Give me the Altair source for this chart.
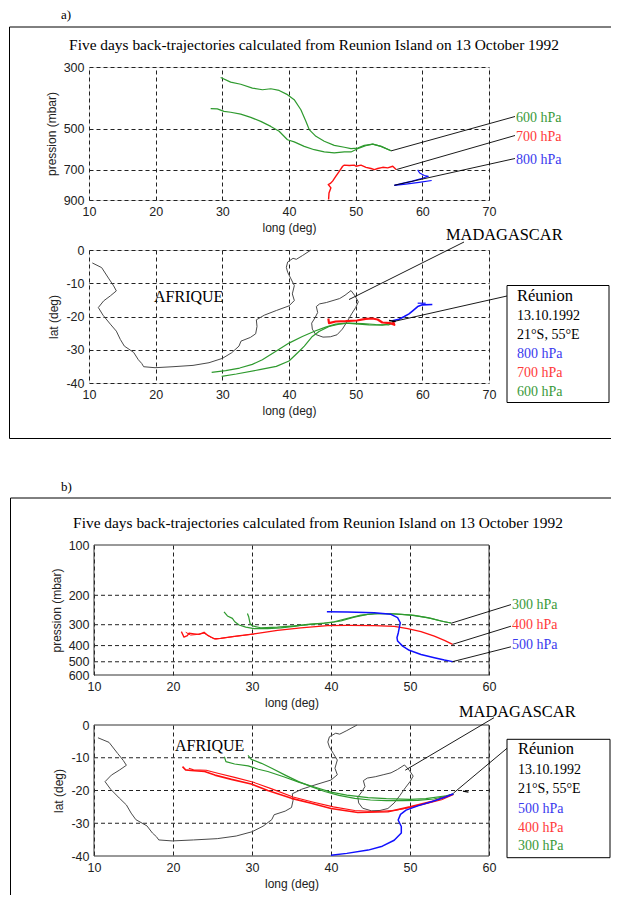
import altair as alt
import pandas as pd

# ---------------------------------------------------------------- data
# coastlines (lon, lat)
africa = [(10.5, -3.9), (11.9, -5.3), (13.0, -8.7), (13.7, -10.8), (14.1, -12.3),
          (13.2, -13.8), (12.2, -15.3), (11.4, -17.3), (12.1, -19.6), (13.2, -22.3),
          (14.1, -24.4), (14.7, -26.9), (15.3, -28.9), (16.7, -30.8), (17.4, -33.0),
          (17.9, -34.1), (18.2, -35.1), (19.9, -35.4), (22.6, -35.1), (25.6, -34.7),
          (28.0, -33.9), (30.0, -32.6), (31.4, -30.9), (32.5, -28.9), (32.8, -27.4),
          (34.2, -26.3), (35.0, -25.2), (35.2, -23.0), (35.1, -21.0), (36.3, -19.6),
          (38.1, -18.2), (40.0, -16.8), (40.8, -15.2), (40.5, -13.2), (40.8, -10.7),
          (40.3, -8.7), (39.8, -6.7), (39.6, -5.2), (39.8, -3.6), (40.6, -2.5),
          (41.1, -2.8), (42.0, -1.7), (43.3, 0.0)]
madagascar = [(49.3, -12.2), (49.9, -13.8), (50.4, -15.6), (50.0, -17.3), (49.4, -19.2),
              (48.7, -21.6), (48.0, -23.8), (47.2, -25.5), (46.2, -26.1), (45.1, -26.2),
              (44.0, -25.4), (43.5, -23.8), (43.4, -22.0), (43.9, -20.4), (44.3, -18.8),
              (44.1, -17.0), (44.6, -16.2), (45.6, -15.8), (46.6, -15.2), (47.6, -14.6),
              (48.4, -13.6), (49.3, -12.2)]

# panel a : pressure (lon, hPa)
a_p600_1 = [(29.75, 327), (31.25, 340), (32.76, 346), (34.51, 357), (36.02, 362), (37.27, 359),
            (38.52, 364), (39.77, 377), (40.78, 393), (41.78, 427), (42.53, 470), (43.03, 503),
            (44.04, 532), (45.29, 554), (46.79, 573), (48.30, 582), (49.30, 589), (50.30, 586),
            (51.30, 573), (52.56, 567), (53.81, 578), (55.31, 599)]
a_p600_2 = [(28.25, 423), (29.25, 424), (30.25, 433), (31.25, 436), (32.76, 443), (34.26, 455),
            (35.76, 470), (37.27, 490), (38.52, 510), (39.77, 547), (40.78, 557), (42.28, 578),
            (43.78, 594), (45.29, 605), (46.79, 610), (48.30, 605), (49.30, 605), (50.30, 589),
            (51.50, 575), (52.56, 567), (53.81, 578), (55.31, 599)]
a_p700 = [(45.94, 896), (46.00, 850), (46.29, 814), (45.89, 792), (46.20, 785), (46.54, 770),
          (47.04, 739), (47.54, 710), (48.05, 681), (48.30, 675), (49.05, 677), (49.80, 675),
          (50.05, 681), (50.80, 675), (51.55, 687), (52.31, 694), (52.81, 700), (53.31, 694),
          (54.06, 687), (54.81, 690), (55.56, 681), (56.07, 700)]
a_p800_1 = [(55.8, 797), (57.0, 785), (58.5, 770), (60.0, 752), (60.9, 740), (60.3, 735),
            (59.6, 720), (59.3, 702)]
a_p800_2 = [(55.8, 797), (57.5, 790), (59.5, 778), (61.4, 766)]

# panel a : map (lon, lat)
a_m600_1 = [(28.4, -36.8), (30.5, -36.3), (32.6, -35.5), (34.5, -34.4), (36.0, -33.0), (38.1, -30.4),
            (40.0, -28.0), (42.0, -26.0), (44.0, -24.3), (45.5, -23.2), (47.0, -22.3), (48.5, -22.0),
            (50.0, -22.2), (52.0, -22.5), (54.0, -22.6), (55.5, -22.0)]
a_m600_2 = [(29.9, -38.0), (32.1, -37.3), (35.6, -36.0), (38.1, -35.0), (40.0, -33.4), (41.3, -30.9),
            (42.3, -28.9), (43.5, -26.0), (44.5, -24.5), (46.0, -23.0), (47.5, -22.3), (49.0, -22.0),
            (51.0, -22.1), (53.0, -22.4), (55.0, -22.5), (55.5, -22.0)]
a_m700 = [(45.9, -20.6), (46.0, -22.0), (47.0, -21.5), (48.5, -21.4), (50.2, -21.2), (51.5, -20.7),
          (52.5, -20.6), (53.3, -20.9), (54.0, -21.8), (55.2, -22.0), (55.8, -22.5), (55.6, -21.4)]
a_m800 = [(55.5, -21.3), (56.5, -20.8), (57.3, -20.0), (58.0, -19.2), (58.6, -18.2), (59.3, -17.0),
          (60.0, -16.5), (61.5, -16.4)]
a_m800_hook = [(59.3, -16.0), (60.5, -16.0)]
a_station = [(55.0, -21.2), (56.0, -21.5)]

# panel b : pressure (lon, hPa)
b_p300_1 = [(26.46, 251), (26.89, 266), (27.52, 275), (27.82, 288), (28.37, 301), (29.21, 310),
            (30.27, 317), (31.96, 317), (33.65, 313), (35.34, 307), (37.03, 299), (39.14, 293),
            (40.41, 288), (42.10, 275), (43.79, 263), (45.48, 258), (48.01, 258), (50.12, 263),
            (52.23, 272), (53.92, 285), (55.19, 293)]
b_p300_2 = [(29.42, 257), (29.59, 270), (29.76, 296), (30.05, 305), (31.11, 313), (33.22, 310),
            (35.34, 305), (37.45, 299), (39.56, 293), (41.25, 285), (42.94, 270), (44.63, 260),
            (46.32, 257), (48.86, 260), (50.55, 264), (52.66, 275), (54.35, 288), (55.19, 293)]
b_p400_1 = [(21.06, 330), (21.39, 356), (21.82, 349), (22.03, 337), (22.66, 340), (23.30, 343),
            (23.93, 333), (24.35, 346), (25.20, 364), (26.04, 362), (27.73, 352), (30.27, 340),
            (33.22, 324), (36.18, 313), (39.56, 304), (42.10, 303), (45.48, 304), (48.01, 307),
            (49.70, 317), (51.39, 330), (53.08, 351), (54.35, 372), (55.40, 393)]
b_p400_2 = [(21.61, 333), (22.24, 346), (23.08, 343), (23.93, 337), (24.77, 356), (25.41, 366),
            (26.04, 362), (28.00, 352), (30.27, 341)]
b_p500 = [(39.48, 251), (42.10, 252), (45.48, 254), (47.59, 260), (48.43, 272), (48.77, 292),
          (48.64, 313), (48.52, 335), (48.35, 359), (48.43, 376), (49.07, 403), (49.91, 427),
          (51.39, 452), (53.08, 473), (54.35, 488), (55.40, 499)]

# panel b : map (lon, lat)
b_m300_1 = [(26.5, -9.7), (26.7, -11.2), (27.8, -11.9), (29.5, -12.5), (30.8, -13.5), (32.0, -14.2),
            (34.0, -15.8), (36.0, -17.5), (38.0, -19.0), (40.0, -20.5), (42.0, -21.4), (44.7, -22.2),
            (47.0, -22.5), (50.0, -22.7), (52.0, -22.5), (54.6, -21.6), (55.5, -21.0)]
b_m300_2 = [(29.5, -9.3), (29.9, -10.5), (31.2, -11.7), (32.5, -13.2), (34.2, -15.3), (35.9, -17.3),
            (37.5, -18.8), (39.2, -20.3), (41.0, -21.5), (43.0, -22.4), (45.0, -22.9), (47.0, -23.1),
            (49.0, -23.1), (51.0, -23.0), (53.0, -22.6), (55.5, -21.2)]
b_m400_1 = [(21.2, -12.7), (21.6, -13.7), (22.3, -13.9), (24.0, -14.2), (25.3, -15.3), (27.4, -16.6),
            (29.9, -18.0), (32.0, -20.0), (35.0, -22.4), (37.5, -23.9), (40.0, -25.5), (43.4, -26.7),
            (47.2, -26.5), (50.0, -25.0), (52.7, -23.4), (55.2, -21.4)]
b_m400_2 = [(22.0, -13.2), (22.6, -13.7), (24.2, -13.8), (25.8, -14.8), (27.8, -16.0), (30.2, -17.5),
            (32.5, -19.5), (35.2, -22.0), (37.8, -23.6), (40.3, -25.0), (43.0, -26.1), (45.5, -26.4),
            (48.0, -26.1), (50.0, -25.2), (52.0, -24.0), (54.0, -22.8), (55.5, -21.2)]
b_m500 = [(40.0, -39.8), (42.0, -39.2), (44.7, -38.2), (46.5, -37.0), (48.0, -35.2), (48.9, -33.0),
          (48.9, -31.0), (48.5, -29.0), (48.8, -27.3), (49.5, -26.0), (51.0, -24.7), (53.0, -23.2),
          (54.5, -22.0), (55.5, -21.0)]
b_station = [(56.7, -20.2), (57.4, -20.5)]

# axis ticks
a_lon_ticks = [10, 20, 30, 40, 50, 60, 70]
b_lon_ticks = [10, 20, 30, 40, 50, 60]
a_p_ticks = [300, 500, 700, 900]
b_p_ticks = [100, 200, 300, 400, 500, 600]
b_p_grid = [200, 300, 400, 500]
lat_ticks = [0, -10, -20, -30, -40]
lat_grid = [-10, -20, -30]

title_text = "Five days back-trajectories calculated from Reunion Island on 13 October 1992"

# ---------------------------------------------------------------- styles
SERIF = "Liberation Serif"
SANS = "Liberation Sans"
GREEN = "#2e9a2e"
RED = "#ff1010"
BLUE = "#1010ff"
COAST = "#4a4a4a"
TXT_G = "#3a9a3a"
TXT_R = "#ff3a3a"
TXT_B = "#3a3aee"
GRID = "#222"
RIGHT = 522  # right end of the panel frames (relative to plot origin)
dummy = pd.DataFrame({"a": [0]})


def tracks_df(tracks, yname):
    rows = []
    for tid, (pts, key, w) in enumerate(tracks):
        for i, (x, y) in enumerate(pts):
            rows.append({"lon": x, yname: y, "id": tid, "i": i, "c": key, "w": w})
    return pd.DataFrame(rows)


def axis_common(values, title, grid=True, offset=0):
    return alt.Axis(values=values, title=title, grid=grid, gridDash=[4, 3], gridColor=GRID,
                    gridOpacity=1, gridWidth=1, domain=False, ticks=False, labelFlush=False,
                    labelOverlap=False, labelFont=SANS, labelFontSize=12.5, labelColor="#222",
                    labelPadding=5, labelExpr="datum.value + ''", titleFont=SANS,
                    titleFontSize=12, titleFontWeight="normal", titleColor="#222",
                    titlePadding=5, offset=offset)


def X(domain, ticks, rng=None):
    if rng is None:
        sc = alt.Scale(domain=domain, nice=False, zero=False)
    else:
        sc = alt.Scale(domain=domain, range=rng, nice=False, zero=False)
    return alt.X("lon:Q", scale=sc, axis=axis_common(ticks, "long (deg)"))


def Yp(domain, ticks, grid=True, offset=0):
    return alt.Y("p:Q", scale=alt.Scale(type="log", domain=domain, nice=False, reverse=True),
                 axis=axis_common(ticks, "pression (mbar)", grid, offset))


def Ylat(grid=True, offset=0):
    return alt.Y("lat:Q", scale=alt.Scale(domain=[-40, 0], nice=False, zero=False),
                 axis=axis_common(lat_ticks, "lat (deg)", grid, offset))


COLOR = alt.Color("c:N", scale=alt.Scale(domain=["g", "r", "b", "k"],
                                         range=[GREEN, RED, BLUE, "black"]), legend=None)


def line_layer(df, x, y):
    return alt.Chart(df).mark_line(strokeJoin="round").encode(
        x=x, y=y, color=COLOR, size=alt.Size("w:Q", scale=None, legend=None),
        detail="id:N", order="i:Q")


def coast_layer(x, y):
    df = tracks_df([(africa, "k", 1), (madagascar, "k", 1)], "lat")
    return alt.Chart(df).mark_line(color=COAST, strokeWidth=1).encode(
        x=x, y=y, detail="id:N", order="i:Q")


def hgrid(y, yname, values, x1, x2):
    df = pd.DataFrame({yname: values})
    return alt.Chart(df).mark_rule(color=GRID, strokeWidth=1, strokeDash=[4, 3]).encode(
        y=y, x=alt.value(x1), x2=alt.value(x2))


def text_at(px, py, s, size, color="black", font=SERIF, align="left"):
    return alt.Chart(dummy).mark_text(text=s, font=font, fontSize=size, color=color,
                                      align=align, baseline="alphabetic").encode(
        x=alt.value(px), y=alt.value(py))


def seg(x1, y1, x2, y2, color="black", width=1.0, opacity=1.0):
    return alt.Chart(dummy).mark_rule(color=color, strokeWidth=width, strokeOpacity=opacity).encode(
        x=alt.value(x1), y=alt.value(y1), x2=alt.value(x2), y2=alt.value(y2))


def box(x1, y1, x2, y2, fill="white", stroke="black"):
    return alt.Chart(dummy).mark_rect(fill=fill, fillOpacity=1 if fill != "none" else 0,
                                      stroke=stroke, strokeWidth=1).encode(
        x=alt.value(x1), y=alt.value(y1), x2=alt.value(x2), y2=alt.value(y2))


def callout(x, y, yname, lon, val, px, py):
    df = pd.DataFrame({"lon": [lon], yname: [val]})
    return alt.Chart(df).mark_rule(color="black", strokeWidth=0.9).encode(
        x=x, y=y, x2=alt.value(px), y2=alt.value(py))


# ---------------------------------------------------------------- panel a, pressure
xa = X([10, 70], a_lon_ticks)
ya = Yp([300, 900], a_p_ticks)
dfa1 = tracks_df([(a_p600_1, "g", 1.2), (a_p600_2, "g", 1.2), (a_p700, "r", 1.4),
                  (a_p800_1, "b", 1.2), (a_p800_2, "b", 1.2)], "p")
A1 = alt.layer(
    line_layer(dfa1, xa, ya),
    callout(xa, ya, "p", 55.3, 600, 426, 49.5),
    callout(xa, ya, "p", 56.1, 700, 426, 68.5),
    callout(xa, ya, "p", 55.8, 797, 426, 91.5),
    text_at(427, 54.5, "600 hPa", 14, TXT_G),
    text_at(427, 73.5, "700 hPa", 14, TXT_R),
    text_at(427, 96.5, "800 hPa", 14, TXT_B),
    text_at(225, -17.5, title_text, 15.4, align="center"),
    text_at(-28, -48, "a)", 13),
    # panel frame
    seg(-79.5, -40, RIGHT, -40),
    seg(-79.5, -40, -79.5, 371.5),
    seg(-79.5, 371.5, RIGHT, 371.5),
    # invisible anchor (top-left of the page area)
    seg(-80, -58, -80, -58, opacity=0),
).properties(width=400, height=133)

# ---------------------------------------------------------------- panel a, map
ylat = Ylat()
dfa2 = tracks_df([(a_m600_1, "g", 1.2), (a_m600_2, "g", 1.2), (a_m700, "r", 2.2),
                  (a_m800, "b", 1.6), (a_m800_hook, "b", 1.2), (a_station, "k", 1.5)], "lat")
A2 = alt.layer(
    coast_layer(xa, ylat),
    line_layer(dfa2, xa, ylat),
    text_at(65, 52, "AFRIQUE", 16),
    text_at(357, -10, "MADAGASCAR", 16.4),
    callout(xa, ylat, "lat", 49.0, -14.9, 375, -8),
    callout(xa, ylat, "lat", 55.5, -21.6, 418, 46),
    box(418, 35.5, 520, 152.5),
    text_at(428, 50.5, "Réunion", 16.5),
    text_at(428, 70, "13.10.1992", 14),
    text_at(428, 89, "21°S, 55°E", 14),
    text_at(428, 108, "800 hPa", 14, TXT_B),
    text_at(428, 127, "700 hPa", 14, TXT_R),
    text_at(428, 146, "600 hPa", 14, TXT_G),
).properties(width=400, height=133)

# ---------------------------------------------------------------- vertical gap
gap = alt.Chart(dummy).mark_point(opacity=0).encode(
    x=alt.value(0), y=alt.value(0)).properties(width=1, height=62,
                                               view=alt.ViewBackground(strokeOpacity=0))

# ---------------------------------------------------------------- panel b, pressure
xb = X([10, 60], b_lon_ticks, rng=[5, 400])
yb = Yp([100, 600], b_p_ticks, grid=False, offset=-5)
dfb1 = tracks_df([(b_p300_1, "g", 1.2), (b_p300_2, "g", 1.2), (b_p400_1, "r", 1.3),
                  (b_p400_2, "r", 1.0), (b_p500, "b", 1.5)], "p")
B1 = alt.layer(
    hgrid(yb, "p", b_p_grid, 5, 400),
    box(5, 0, 400, 130, fill="none", stroke="#333"),
    line_layer(dfb1, xb, yb),
    callout(xb, yb, "p", 55.2, 294, 422, 59.6),
    callout(xb, yb, "p", 55.4, 393, 422, 81.2),
    callout(xb, yb, "p", 55.4, 499, 422, 101.8),
    text_at(423, 64.3, "300 hPa", 14, TXT_G),
    text_at(423, 84.3, "400 hPa", 14, TXT_R),
    text_at(423, 104.3, "500 hPa", 14, TXT_B),
    text_at(229, -17.5, title_text, 15.4, align="center"),
    text_at(-28, -54, "b)", 13),
    seg(-78.5, -47, RIGHT, -47),
    seg(-78.5, -47, -78.5, 350),
).properties(width=400, height=130, view=alt.ViewBackground(strokeOpacity=0))

# ---------------------------------------------------------------- panel b, map
ylatb = Ylat(grid=False, offset=-5)
dfb2 = tracks_df([(b_m300_1, "g", 1.2), (b_m300_2, "g", 1.2), (b_m400_1, "r", 1.6),
                  (b_m400_2, "r", 1.1), (b_m500, "b", 1.5), (b_station, "k", 1.2)], "lat")
B2 = alt.layer(
    hgrid(ylatb, "lat", lat_grid, 5, 400),
    box(5, 0, 400, 131, fill="none", stroke="#333"),
    coast_layer(xb, ylatb),
    line_layer(dfb2, xb, ylatb),
    text_at(86, 26.3, "AFRIQUE", 16),
    text_at(370, -8.3, "MADAGASCAR", 16.4),
    callout(xb, ylatb, "lat", 49.4, -13.8, 405, -7.3),
    callout(xb, ylatb, "lat", 55.5, -20.8, 418, 23.3),
    box(418, 14.3, 521, 132.7),
    text_at(429, 29.3, "Réunion", 16.5),
    text_at(429, 49.3, "13.10.1992", 14),
    text_at(429, 68.3, "21°S, 55°E", 14),
    text_at(429, 87.7, "500 hPa", 14, TXT_B),
    text_at(429, 106.7, "400 hPa", 14, TXT_R),
    text_at(429, 125.3, "300 hPa", 14, TXT_G),
).properties(width=400, height=131, view=alt.ViewBackground(strokeOpacity=0))

chart = alt.vconcat(A1, A2, gap, B1, B2, spacing=50, bounds="flush").properties(
    padding=0
).configure_view(stroke="#333", strokeWidth=1).configure(background="white")

chart.save("out.html", embed_options={"renderer": "svg", "actions": False})
